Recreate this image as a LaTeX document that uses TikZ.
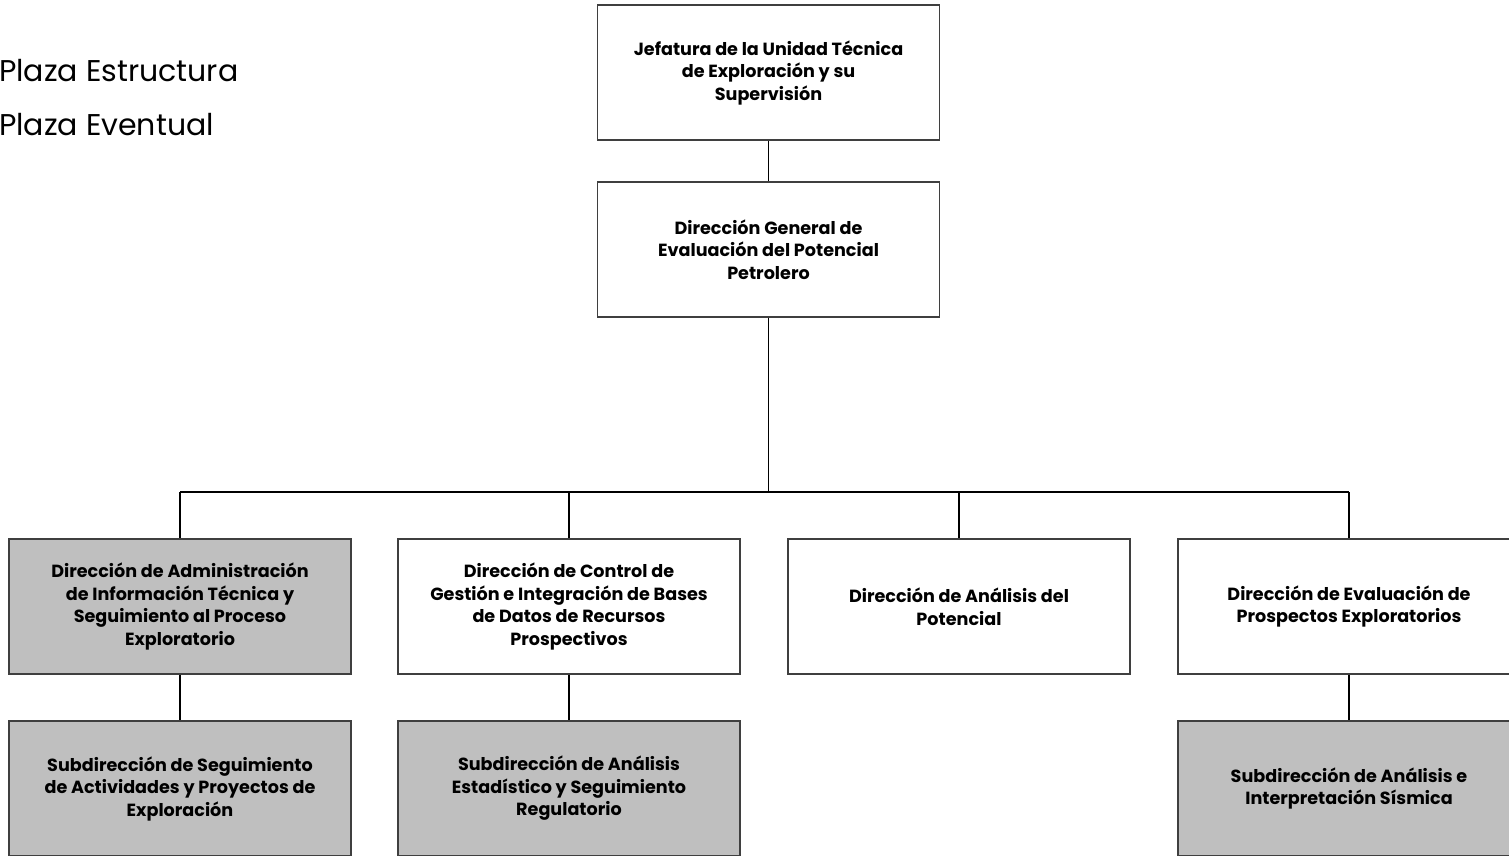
\documentclass[tikz,border=0pt]{standalone}
\usepackage{fontspec}
\setmainfont{Poppins}
\usetikzlibrary{positioning}

\definecolor{plazagris}{HTML}{BFBFBF}
\definecolor{bordegris}{HTML}{3F3F3F}

\tikzset{
    unidad/.style={draw=bordegris, line width=1.1pt, minimum width=342pt, minimum height=135pt,
        align=center, inner sep=0pt,
        font=\bfseries\fontsize{17.6}{22.5}\selectfont},
    estructura/.style={unidad, fill=white},
    eventual/.style={unidad, fill=plazagris},
    liga/.style={line width=1.7pt, black},
    leyenda/.style={anchor=west, inner sep=0pt, font=\fontsize{30}{34}\selectfont}
}

\begin{document}
\begin{tikzpicture}[x=1pt, y=-1pt]

% ==== PAGE ====
\useasboundingbox (0,0) rectangle (1509,855);
\clip (0,0) rectangle (1509,855);

% ==== LEGEND ====
\node[leyenda] (leyA) at (-1,71) {Plaza Estructura};
\node[leyenda] (leyB) at (-1,125) {Plaza Eventual};

% ==== TOP LEVELS ====
\node[estructura] (jefatura) at (768.5,72.5)
    {Jefatura de la Unidad Técnica\\de Exploración y su\\Supervisión};
\node[estructura] (general) at (768.5,249.5)
    {Dirección General de\\Evaluación del Potencial\\Petrolero};

% ==== DIRECCIONES ====
\node[eventual] (dirA) at (180,606.5)
    {Dirección de Administración\\de Información Técnica y\\Seguimiento al Proceso\\Exploratorio};
\node[estructura] (dirB) at (569,606.5)
    {Dirección de Control de\\Gestión e Integración de Bases\\de Datos de Recursos\\Prospectivos};
\node[estructura] (dirC) at (959,606.5)
    {Dirección de Análisis del\\Potencial};
\node[estructura] (dirD) at (1349,606.5)
    {Dirección de Evaluación de\\Prospectos Exploratorios};

% ==== SUBDIRECCIONES ====
\node[eventual] (subA) at (180,788.5)
    {Subdirección de Seguimiento\\de Actividades y Proyectos de\\Exploración};
\node[eventual] (subB) at (569,788.5)
    {Subdirección de Análisis\\Estadístico y Seguimiento\\Regulatorio};
\node[eventual] (subD) at (1349,788.5)
    {Subdirección de Análisis e\\Interpretación Sísmica};

% ==== CONNECTORS ====
\draw[liga] (jefatura.south) -- (general.north);
\coordinate (barra) at (768.5,492);
\draw[liga] (general.south) -- (barra);
\draw[liga] (dirA.north |- barra) -- (dirD.north |- barra);
\foreach \d in {dirA,dirB,dirC,dirD}{
    \draw[liga] (\d.north |- barra) -- (\d.north);
}
\draw[liga] (dirA.south) -- (subA.north);
\draw[liga] (dirB.south) -- (subB.north);
\draw[liga] (dirD.south) -- (subD.north);

\end{tikzpicture}
\end{document}
